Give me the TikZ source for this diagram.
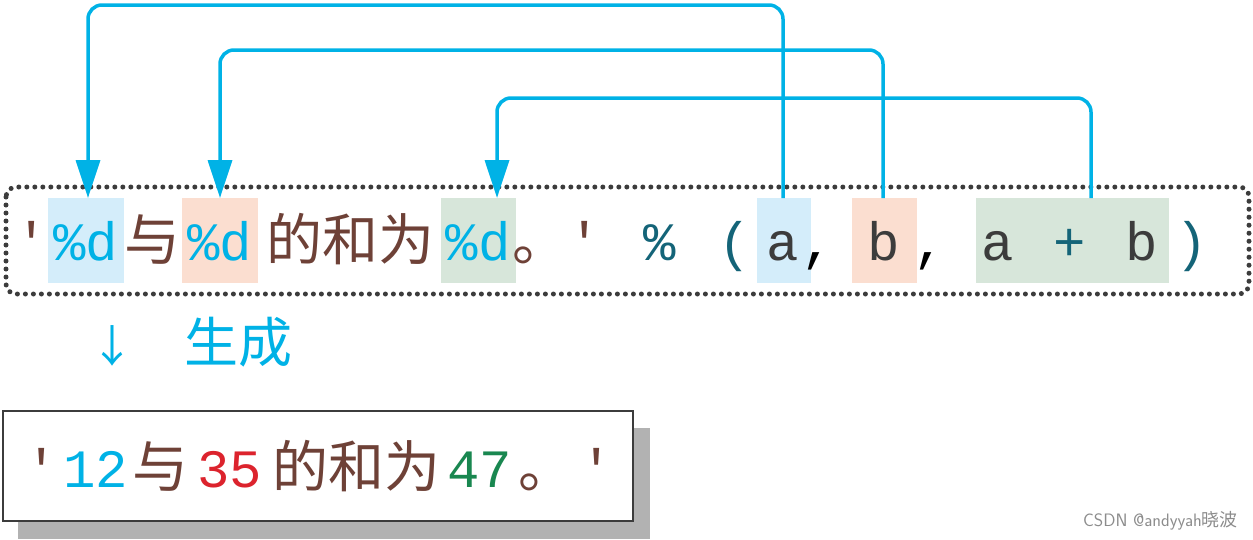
\documentclass[tikz,border=0pt]{standalone}
\usepackage{fontspec}
\setmonofont{Liberation Mono}
\newfontfamily\cjk{Noto Sans CJK SC}
\newfontfamily\cjkl{Noto Sans CJK SC Light}
\usetikzlibrary{arrows.meta}
\definecolor{br}{RGB}{110,65,55}
\definecolor{cy}{RGB}{0,178,230}
\definecolor{tl}{RGB}{20,100,120}
\definecolor{dg}{RGB}{60,60,60}
\definecolor{lb}{RGB}{212,237,250}
\definecolor{lp}{RGB}{251,222,208}
\definecolor{lg}{RGB}{215,230,218}
\definecolor{rd}{RGB}{220,35,45}
\definecolor{gn}{RGB}{25,135,80}
\tikzset{t/.style={anchor=base,inner sep=0pt,font=\fontsize{54}{54}\selectfont\ttfamily},
 c/.style={anchor=base,inner sep=0pt,font=\fontsize{56}{56}\selectfont\cjk},
 link/.style={cy,line width=3.5pt,rounded corners=14pt,-{Triangle[width=24pt,length=38pt]}}}
\begin{document}
\begin{tikzpicture}[x=1pt,y=-1pt]
\useasboundingbox (0,0) rectangle (1253,539);
\draw[dg,line width=5pt,dash pattern=on 0pt off 8pt,line cap=round,rounded corners=10pt] (6,187) rectangle (1249,294);
\fill[lb] (48,198) rectangle (124,283);
\fill[lp] (182,198) rectangle (258,283);
\fill[lg] (441,198) rectangle (516,283);
\fill[lb] (757,198) rectangle (811,283);
\fill[lp] (852,198) rectangle (917,283);
\fill[lg] (976,198) rectangle (1169,283);
\node[t,br] (q1) at (32,260) {'};
\node[t,cy] (d1) at (86,260) {\%d};
\node[c,br] (y1) at (152,260) {与};
\node[t,cy] (d2) at (220,260) {\%d};
\node[c,br] (w1) at (350,260) {的和为};
\node[t,cy] (d3) at (478,260) {\%d};
\node[c,br] (p1) at (540,260) {。};
\node[t,br] (q2) at (585,260) {'};
\node[t,tl] (pc) at (660,260) {\%};
\node[t,tl] (lp) at (735,260) {(};
\node[t,dg] (va) at (783,260) {a};
\node[t,black] (k1) at (818,260) {,};
\node[t,dg] (vb) at (884,260) {b};
\node[t,black] (k2) at (930,260) {,};
\node[t,dg] (va2) at (998,260) {a};
\node[t,tl] (pl) at (1070,260) {+};
\node[t,dg] (vb2) at (1142,260) {b};
\node[t,tl] (rp) at (1192,260) {)};
\coordinate (s1) at (783,198); \coordinate (e1) at (88,198);
\coordinate (s2) at (883,198); \coordinate (e2) at (220,198);
\coordinate (s3) at (1091,198); \coordinate (e3) at (497,198);
\draw[link] (s1) |- (436,5) -| (e1);
\draw[link] (s2) |- (500,50) -| (e2);
\draw[link] (s3) |- (800,98) -| (e3);
\node[anchor=base,inner sep=0pt,cy,font=\fontsize{44}{44}\selectfont\cjk] (ar) at (112,362) {↓};
\node[anchor=base,inner sep=0pt,cy,font=\fontsize{54}{54}\selectfont\cjk] (sc) at (238,362) {生成};
\fill[black!30] (18,428) rectangle (650,539);
\draw[fill=white,draw=dg,line width=2.5pt] (3,411) rectangle (633,521);
\node[t,br] at (42,487) {'};
\node[t,cy] at (96,487) {12};
\node[c,br] at (160,487) {与};
\node[t,rd] at (230,487) {35};
\node[c,br] at (356,487) {的和为};
\node[t,gn] at (480,487) {47};
\node[c,br] at (546,487) {。};
\node[t,br] at (597,487) {'};
\node[anchor=base east,inner sep=0pt,black!45,font=\fontsize{18}{18}\selectfont\sffamily] at (1238,526) {CSDN @andyyah{\cjk 晓波}};
\end{tikzpicture}
\end{document}
